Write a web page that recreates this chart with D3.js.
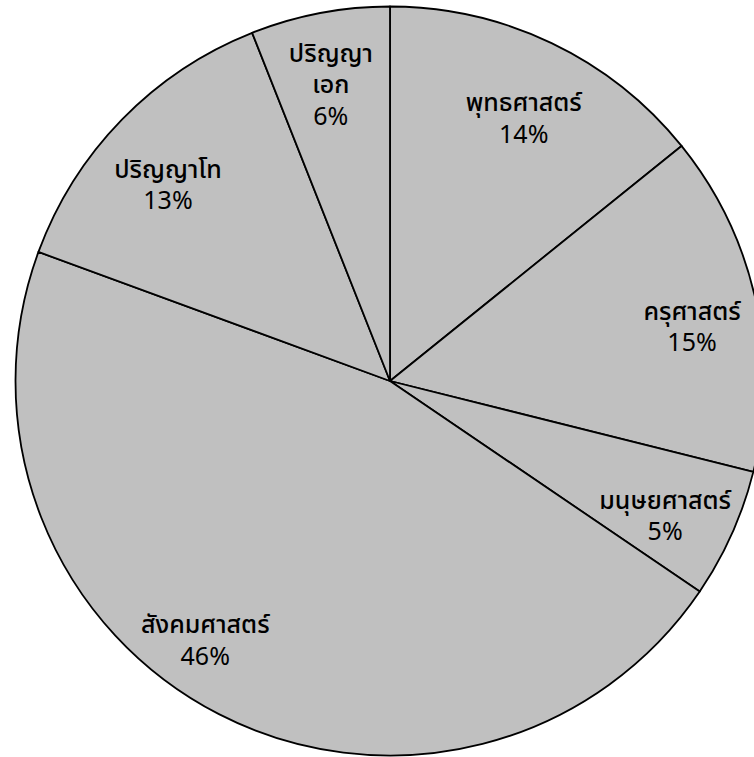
<!DOCTYPE html>
<html>
<head>
<meta charset="utf-8">
<script src="https://cdn.jsdelivr.net/npm/d3@7"></script>
<style>
  html, body { margin: 0; padding: 0; background: #ffffff; overflow: hidden; }
  svg { display: block; }
  text { font-family: "Tahoma", "Noto Sans Thai", "Noto Sans", "DejaVu Sans", sans-serif; }
</style>
</head>
<body>
<svg id="chart" width="754" height="757"></svg>
<script>
// ---- data ----
const categories = ["พุทธศาสตร์", "ครุศาสตร์", "มนุษยศาสตร์", "สังคมศาสตร์", "ปริญญาโท", "ปริญญาเอก"];
const labelLines = [["พุทธศาสตร์"], ["ครุศาสตร์"], ["มนุษยศาสตร์"], ["สังคมศาสตร์"], ["ปริญญาโท"], ["ปริญญา", "เอก"]];
const values = [14.2, 14.7, 5.6, 46.1, 13.4, 6.0];
const percentLabels = ["14%", "15%", "5%", "46%", "13%", "6%"];

// ---- label placement (radius fraction, angle offset in degrees from slice middle) ----
const labelRadius = [0.785, 0.819, 0.819, 0.852, 0.79, 0.806];
const labelAngleOffset = [1.5, 2.4, 2.1, 8.2, -2.9, -0.5];

const W = 754, H = 757;
const cx = 390, cy = 381, R = 374.5;
const lineH = 31.5;

const svg = d3.select("#chart");
const g = svg.append("g").attr("transform", `translate(${cx},${cy})`);

const pie = d3.pie().sort(null).value(d => d)(values);
const arc = d3.arc().innerRadius(0).outerRadius(R);

g.selectAll("path.slice")
  .data(pie)
  .join("path")
  .attr("class", "slice")
  .attr("d", arc)
  .attr("fill", "#c0c0c0")
  .attr("stroke", "#000")
  .attr("stroke-width", 1.8)
  .attr("stroke-linejoin", "round");

const labels = g.selectAll("g.lbl")
  .data(pie)
  .join("g")
  .attr("class", "lbl")
  .attr("transform", (d, i) => {
    const a = (d.startAngle + d.endAngle) / 2 + labelAngleOffset[i] * Math.PI / 180;
    const r = R * labelRadius[i];
    return `translate(${r * Math.sin(a)},${-r * Math.cos(a)})`;
  });

labels.each(function(d, i) {
  const lines = labelLines[i].concat([percentLabels[i]]);
  const n = lines.length;
  const t = d3.select(this).append("text")
    .attr("text-anchor", "middle")
    .attr("font-size", 25)
    .attr("fill", "#000");
  lines.forEach((s, k) => {
    t.append("tspan")
      .attr("x", 0)
      .attr("y", (k - (n - 1) / 2) * lineH + 8)
      .attr("font-weight", k < n - 1 ? 500 : "normal")
      .text(s);
  });
});
</script>
</body>
</html>
